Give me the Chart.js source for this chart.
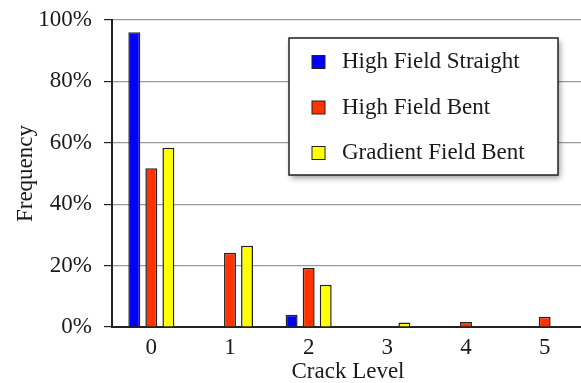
<!DOCTYPE html>
<html>
<head>
<meta charset="utf-8">
<script src="https://cdn.jsdelivr.net/npm/chart.js@4"></script>
<style>
  html, body { margin: 0; padding: 0; background: #fff; overflow: hidden; }
  #wrap { width: 584px; height: 383px; position: relative; }
</style>
</head>
<body>
<div id="wrap"><canvas id="c"></canvas></div>
<script>
// Crack level distribution (percent of samples) per field configuration
const crackLevels = ['0', '1', '2', '3', '4', '5'];
const highFieldStraight = [96, null, 4, null, null, null];
const highFieldBent = [51.7, 24.2, 19.2, null, 1.6, 3.3];
const gradientFieldBent = [58.4, 26.5, 13.8, 1.5, null, null];
const yTickStep = 20;
const yMax = 100;

const serif = '"Liberation Serif", "Times New Roman", serif';
const ink = '#1a1a1a';
const fontSize = 23;

// Boxed legend with a drop shadow, drawn over the plot area
const boxLegend = {
  id: 'boxLegend',
  afterDraw(chart, args, o) {
    const ctx = chart.ctx;
    const a = chart.chartArea;
    const x = a.left + o.x, y = a.top + o.y;
    ctx.save();
    ctx.shadowColor = 'rgba(0,0,0,0.4)';
    ctx.shadowBlur = 6;
    ctx.shadowOffsetX = 2;
    ctx.shadowOffsetY = 3;
    ctx.fillStyle = '#fff';
    ctx.fillRect(x, y, o.width, o.height);
    ctx.shadowColor = 'transparent';
    ctx.strokeStyle = '#222';
    ctx.lineWidth = 1.5;
    ctx.strokeRect(x, y, o.width, o.height);
    ctx.font = fontSize + 'px ' + serif;
    ctx.textBaseline = 'middle';
    chart.data.datasets.forEach((ds, i) => {
      const cy = y + o.firstRow + i * o.rowGap;
      ctx.fillStyle = ds.backgroundColor;
      ctx.fillRect(x + o.swatchX, cy - 6.5, 13, 13);
      ctx.lineWidth = 1;
      ctx.strokeStyle = '#222';
      ctx.strokeRect(x + o.swatchX, cy - 6.5, 13, 13);
      ctx.fillStyle = ink;
      ctx.fillText(ds.label, x + o.textX, cy);
    });
    ctx.restore();
  }
};

const barStyle = { borderColor: '#222', borderWidth: 1.5, categoryPercentage: 0.65, barPercentage: 0.7 };

new Chart(document.getElementById('c'), {
  type: 'bar',
  data: {
    labels: crackLevels,
    datasets: [
      Object.assign({ label: 'High Field Straight', data: highFieldStraight, backgroundColor: '#0000ff' }, barStyle),
      Object.assign({ label: 'High Field Bent', data: highFieldBent, backgroundColor: '#ff3300' }, barStyle),
      Object.assign({ label: 'Gradient Field Bent', data: gradientFieldBent, backgroundColor: '#ffff00' }, barStyle)
    ]
  },
  options: {
    responsive: true,
    maintainAspectRatio: false,
    animation: false,
    layout: { padding: { top: 20, left: 0, right: 0, bottom: 0 } },
    plugins: {
      legend: { display: false },
      tooltip: { enabled: false },
      boxLegend: { x: 177, y: 18, width: 269, height: 137, firstRow: 24, rowGap: 45.5, swatchX: 23, textX: 53 }
    },
    scales: {
      x: {
        grid: { display: false, drawTicks: false },
        border: { display: true, color: '#222', width: 2 },
        ticks: { color: ink, font: { family: serif, size: fontSize }, padding: 7 },
        title: { display: true, text: 'Crack Level', color: ink, font: { family: serif, size: fontSize, lineHeight: 1 }, padding: { top: 0, bottom: 0 } },
        afterFit(s) { s.height = 56; }
      },
      y: {
        min: 0,
        max: yMax,
        ticks: { stepSize: yTickStep, color: ink, font: { family: serif, size: fontSize }, padding: 12, callback: v => v + '%' },
        grid: { color: '#9a9a9a', lineWidth: 1.2, tickLength: 8, tickColor: '#222' },
        border: { display: true, color: '#222', width: 2 },
        title: { display: true, text: 'Frequency', color: ink, font: { family: serif, size: fontSize, lineHeight: 1 }, padding: { top: 14, bottom: 0 } },
        afterFit(s) { s.width = 112; s.paddingTop = 0; s.paddingBottom = 0; }
      }
    }
  },
  plugins: [boxLegend]
});
</script>
</body>
</html>
